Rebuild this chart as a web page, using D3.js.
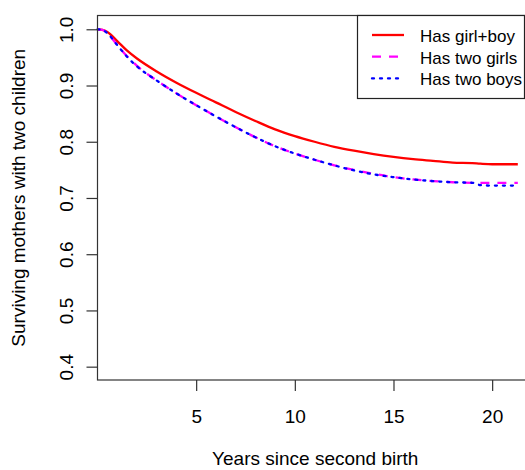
<!DOCTYPE html>
<html lang="en">
<head>
    <meta charset="utf8">
    <script type="text/javascript" src="https://d3js.org/d3.v7.min.js"></script>
    <title>Surviving mothers with two children</title>
    <style>
        body { margin: 0; background: #fff; }
        text { font-family: "Liberation Sans", Arial, sans-serif; fill: #000; }
    </style>
</head>
<body>
    <div class="chart"></div>
</body>
<script type="text/javascript">
    // size of the picture
    var width = 525, height = 470;

    // data
    var years     = [0, 0.25, 0.5, 1, 1.5, 2, 3, 4, 5, 6, 7, 8, 9, 10, 11, 12, 13, 14, 15, 16, 17, 18, 19, 19.4, 20, 21.3];
    var girlBoy   = [1.0, 0.999, 0.995, 0.979, 0.962, 0.948, 0.925, 0.905, 0.887, 0.870, 0.853, 0.837, 0.822, 0.810, 0.800, 0.791, 0.784, 0.778, 0.773, 0.769, 0.766, 0.763, 0.762, 0.761, 0.760, 0.760];
    var twoGirls  = [1.0, 0.999, 0.993, 0.972, 0.952, 0.935, 0.909, 0.886, 0.865, 0.845, 0.826, 0.808, 0.792, 0.779, 0.768, 0.758, 0.750, 0.743, 0.737, 0.733, 0.730, 0.728, 0.727, 0.727, 0.727, 0.727];
    var twoBoys   = [1.0, 0.999, 0.993, 0.972, 0.951, 0.934, 0.909, 0.886, 0.865, 0.845, 0.826, 0.808, 0.792, 0.779, 0.768, 0.758, 0.749, 0.742, 0.737, 0.733, 0.730, 0.728, 0.727, 0.723, 0.722, 0.722];
    var xTicks = [5, 10, 15, 20];
    var yTicks = [0.4, 0.5, 0.6, 0.7, 0.8, 0.9, 1.0];
    var legendLabels = ["Has girl+boy", "Has two girls", "Has two boys"];

    var series = [
        {name: legendLabels[0], values: girlBoy,  color: "#ff0000", dash: null,  cap: "butt"},
        {name: legendLabels[1], values: twoGirls, color: "#ff00ff", dash: "9,8", cap: "butt"},
        {name: legendLabels[2], values: twoBoys,  color: "#0000ff", dash: "2,6", cap: "round"}
    ];

    // plot region (right side runs off the picture)
    var plotLeft = 97.5, plotRight = 533, plotTop = 15.5, plotBottom = 380;

    var svg = d3.select("body div.chart")
        .append("svg")
        .attr("width", width)
        .attr("height", height);

    var x = d3.scaleLinear().domain([0, 22.07]).range([plotLeft, plotRight]);
    var y = d3.scaleLinear().domain([0.3763, 1.0245]).range([plotBottom, plotTop]);

    // curves
    var line = d3.line()
        .curve(d3.curveMonotoneX)
        .x(function(d, i){ return x(years[i]); })
        .y(function(d){ return y(d); });

    svg.append("g").attr("class", "curves")
        .selectAll("path")
        .data(series)
        .enter()
        .append("path")
        .attr("d", function(d){ return line(d.values); })
        .attr("fill", "none")
        .attr("stroke", function(d){ return d.color; })
        .attr("stroke-width", 2.3)
        .attr("stroke-dasharray", function(d){ return d.dash; })
        .attr("stroke-linecap", function(d){ return d.cap; });

    // box
    svg.append("rect")
        .attr("x", plotLeft)
        .attr("y", plotTop)
        .attr("width", plotRight - plotLeft)
        .attr("height", plotBottom - plotTop)
        .attr("fill", "none")
        .attr("stroke", "#333")
        .attr("stroke-width", 1.2);

    // x axis
    var xAxis = svg.append("g")
        .attr("transform", "translate(0," + plotBottom + ")")
        .call(d3.axisBottom(x).tickValues(xTicks).tickSize(11).tickSizeOuter(0).tickPadding(19));
    xAxis.select(".domain").remove();
    xAxis.selectAll("line").attr("stroke", "#333").attr("stroke-width", 1.2);
    xAxis.selectAll("text").style("font-size", "19px").style("font-family", "'Liberation Sans', Arial, sans-serif").attr("fill", "#000");

    // y axis, labels turned like R does it
    var yAxis = svg.append("g")
        .attr("transform", "translate(" + plotLeft + ",0)")
        .call(d3.axisLeft(y).tickValues(yTicks).tickSize(11).tickFormat(d3.format(".1f")));
    yAxis.select(".domain").remove();
    yAxis.selectAll("line").attr("stroke", "#333").attr("stroke-width", 1.2);
    yAxis.selectAll("text")
        .attr("x", null)
        .attr("dy", null)
        .attr("text-anchor", "middle")
        .attr("transform", "translate(-24.8,0) rotate(-90)")
        .style("font-size", "19px")
        .style("font-family", "'Liberation Sans', Arial, sans-serif")
        .attr("fill", "#000");

    // titles
    svg.append("text")
        .attr("x", (plotLeft + plotRight) / 2)
        .attr("y", 465)
        .attr("text-anchor", "middle")
        .style("font-size", "19px")
        .text("Years since second birth");

    svg.append("text")
        .attr("transform", "translate(25.3," + ((plotTop + plotBottom) / 2) + ") rotate(-90)")
        .attr("text-anchor", "middle")
        .style("font-size", "19px")
        .text("Surviving mothers with two children");

    // legend
    var legend = svg.append("g").attr("class", "legend");
    legend.append("rect")
        .attr("x", 357.5)
        .attr("y", 15.5)
        .attr("width", 167)
        .attr("height", 83)
        .attr("fill", "#fff")
        .attr("stroke", "#222")
        .attr("stroke-width", 1.2);

    var rows = legend.selectAll("g.row")
        .data(series)
        .enter()
        .append("g")
        .attr("class", "row")
        .attr("transform", function(d, i){ return "translate(0," + (35 + i * 21.7) + ")"; });

    rows.append("line")
        .attr("x1", 372)
        .attr("x2", 404)
        .attr("stroke", function(d){ return d.color; })
        .attr("stroke-width", 2.3)
        .attr("stroke-dasharray", function(d){ return d.dash; })
        .attr("stroke-linecap", function(d){ return d.cap; });

    rows.append("text")
        .attr("x", 420)
        .attr("dy", "0.4em")
        .style("font-size", "17px")
        .text(function(d){ return d.name; });
</script>
</html>
